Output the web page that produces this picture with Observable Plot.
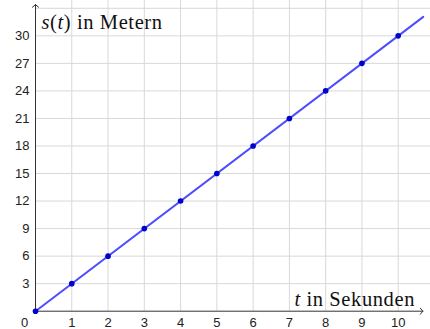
<!DOCTYPE html>
<html>
<head>
<meta charset="utf-8">
<script src="https://cdn.jsdelivr.net/npm/d3@7"></script>
<script src="https://cdn.jsdelivr.net/npm/@observablehq/plot@0.6"></script>
<style>
  html, body { margin: 0; padding: 0; background: white; }
  svg { display: block; }
</style>
</head>
<body>
<div id="chart"></div>
<script>
// Data
const tValues = [0, 1, 2, 3, 4, 5, 6, 7, 8, 9, 10];
const sValues = [0, 3, 6, 9, 12, 15, 18, 21, 24, 27, 30];
// line s(t) = 3t drawn across the visible window
const lineT = [0, 10.69];
const lineS = [0, 32.07];
const xTickValues = [1, 2, 3, 4, 5, 6, 7, 8, 9, 10];
const yTickValues = [3, 6, 9, 12, 15, 18, 21, 24, 27, 30];
const gridXValues = [1, 2, 3, 4, 5, 6, 7, 8, 9, 10];
const gridYValues = [3, 6, 9, 12, 15, 18, 21, 24, 27, 30, 33];
const xDomain = [0, 10.89];
const yDomain = [0, 33.85];
const xAxisEnd = 10.68;
const yAxisEnd = 33.4;
const xTitle = "t in Sekunden";
const yTitle = "s(t) in Metern";

const points = tValues.map((t, i) => ({t, s: sValues[i]}));
const linePts = lineT.map((t, i) => ({t, s: lineS[i]}));

const tickFont = "'Liberation Sans', Arial, sans-serif";
const serif = "'Liberation Serif', 'Times New Roman', serif";

const chart = Plot.plot({
  width: 430,
  height: 329,
  marginLeft: 35,
  marginBottom: 18.3,
  marginTop: 0,
  marginRight: 0,
  x: {domain: xDomain, axis: null},
  y: {domain: yDomain, axis: null},
  style: {background: "white", overflow: "visible"},
  marks: [
    Plot.ruleX(gridXValues, {stroke: "#d8d8d8", strokeWidth: 1}),
    Plot.ruleY(gridYValues, {stroke: "#d8d8d8", strokeWidth: 1}),
    Plot.arrow([{x1: 0, y1: 0, x2: xAxisEnd, y2: 0}], {
      x1: "x1", y1: "y1", x2: "x2", y2: "y2",
      stroke: "#333", strokeWidth: 1, headLength: 6, headAngle: 100
    }),
    Plot.arrow([{x1: 0, y1: 0, x2: 0, y2: yAxisEnd}], {
      x1: "x1", y1: "y1", x2: "x2", y2: "y2",
      stroke: "#333", strokeWidth: 1, headLength: 6, headAngle: 100
    }),
    Plot.line(linePts, {x: "t", y: "s", stroke: "#4d4dff", strokeWidth: 2}),
    Plot.dot(points, {x: "t", y: "s", r: 2.8, fill: "#0000cc", stroke: "none"}),
    Plot.text(xTickValues, {
      x: d => d, y: 0, text: d => String(d), dy: 12,
      fontSize: 13, fontFamily: tickFont, fill: "#222"
    }),
    Plot.text(yTickValues, {
      x: 0, y: d => d, text: d => String(d), dx: -6, textAnchor: "end",
      fontSize: 13, fontFamily: tickFont, fill: "#222"
    }),
    Plot.text([0], {
      x: 0, y: 0, text: d => String(d), dx: -11, dy: 12,
      fontSize: 13, fontFamily: tickFont, fill: "#222"
    }),
    Plot.text([yTitle], {
      frameAnchor: "top-left", text: d => d, textAnchor: "start", lineAnchor: "bottom",
      dx: 6, dy: 28, fontSize: 20.5, fontFamily: serif, fill: "#111",
      className: "ytitle"
    }),
    Plot.text([xTitle], {
      frameAnchor: "bottom-right", text: d => d, textAnchor: "end", lineAnchor: "bottom",
      dx: -15.5, dy: -5, fontSize: 20.5, fontFamily: serif, fill: "#111",
      className: "xtitle"
    })
  ]
});

// italicize math variables
function styleTitle(sel, parts) {
  const g = chart.querySelector(sel);
  if (!g) return;
  const t = g.querySelector("text");
  if (!t) return;
  t.textContent = "";
  t.setAttribute("letter-spacing", "0.6");
  for (const [txt, it] of parts) {
    const ts = document.createElementNS("http://www.w3.org/2000/svg", "tspan");
    ts.textContent = txt;
    if (it) ts.setAttribute("font-style", "italic");
    t.appendChild(ts);
  }
}
styleTitle(".ytitle", [["s", true], ["(", false], ["t", true], [") in Metern", false]]);
styleTitle(".xtitle", [["t", true], [" in Sekunden", false]]);

document.getElementById("chart").appendChild(chart);
</script>
</body>
</html>
